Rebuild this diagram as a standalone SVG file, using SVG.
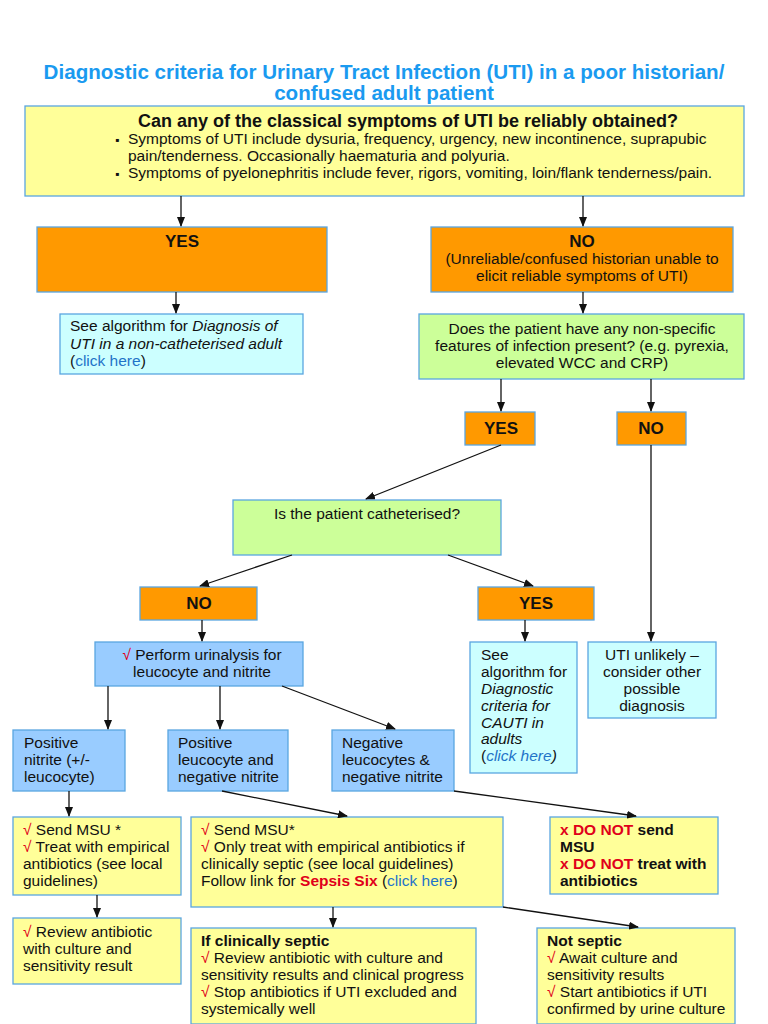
<svg xmlns="http://www.w3.org/2000/svg" width="768" height="1024" viewBox="0 0 768 1024">
<style>
text{font-family:"Liberation Sans",Arial,sans-serif;font-size:15.5px;fill:#111}
.t{font-size:20.6px;font-weight:bold;fill:#1a9af0}
.b{font-weight:bold}
.k{font-weight:bold;font-size:17px}
.c{text-anchor:middle}
.y{fill:#ffff99;stroke:#5aa6e0;stroke-width:1.3}
.o{fill:#ff9900;stroke:#5aa6e0;stroke-width:1.3}
.lb{fill:#ccffff;stroke:#5aa6e0;stroke-width:1.3}
.g{fill:#ccff99;stroke:#5aa6e0;stroke-width:1.3}
.bl{fill:#99ccff;stroke:#5aa6e0;stroke-width:1.3}
.r{fill:#e0001a}
.rb{fill:#e0001a;font-weight:bold}
.lk{fill:#1f73c8}
.ln{stroke:#111;stroke-width:1.3;fill:none;marker-end:url(#a)}
</style>
<defs><marker id="a" markerWidth="10" markerHeight="8" refX="9" refY="4" orient="auto" markerUnits="userSpaceOnUse"><path d="M0,0 L10,4 L0,8 z" fill="#111"/></marker></defs>
<rect width="768" height="1024" fill="#fff"/>
<g id="title"><text class="t c" x="384" y="79">Diagnostic criteria for Urinary Tract Infection (UTI) in a poor historian/</text><text class="t c" x="384" y="100">confused adult patient</text></g>
<g id="q1"><rect class="y" x="25" y="106" width="719" height="90"/><text class="b c" x="408" y="127" style="font-size:18px">Can any of the classical symptoms of UTI be reliably obtained?</text><text x="115" y="144" style="font-size:12px">▪</text><text x="128" y="144">Symptoms of UTI include dysuria, frequency, urgency, new incontinence, suprapubic</text><text x="128" y="161">pain/tenderness. Occasionally haematuria and polyuria.</text><text x="115" y="178" style="font-size:12px">▪</text><text x="128" y="178">Symptoms of pyelonephritis include fever, rigors, vomiting, loin/flank tenderness/pain.</text></g>
<g id="yes1"><rect class="o" x="37" y="227" width="290" height="65"/><text class="k c" x="182" y="247">YES</text></g>
<g id="no1"><rect class="o" x="431" y="227" width="302" height="65"/><text class="k c" x="582" y="247">NO</text><text class="c" x="582" y="264">(Unreliable/confused historian unable to</text><text class="c" x="582" y="281">elicit reliable symptoms of UTI)</text></g>
<g id="seealg1"><rect class="lb" x="60" y="314" width="243" height="60"/><text x="70" y="331">See algorithm for <tspan font-style="italic">Diagnosis of</tspan></text><text x="70" y="349" font-style="italic">UTI in a non-catheterised adult</text><text x="70" y="366">(<tspan class="lk">click here</tspan>)</text></g>
<g id="q2"><rect class="g" x="419" y="314" width="325" height="65"/><text class="c" x="582" y="334">Does the patient have any non-specific</text><text class="c" x="582" y="351">features of infection present? (e.g. pyrexia,</text><text class="c" x="582" y="368">elevated WCC and CRP)</text></g>
<g id="yes2"><rect class="o" x="465" y="412" width="70" height="33"/><text class="k c" x="501" y="434">YES</text></g>
<g id="no2"><rect class="o" x="617" y="412" width="69" height="33"/><text class="k c" x="651" y="434">NO</text></g>
<g id="q3"><rect class="g" x="233" y="500" width="268" height="55"/><text class="c" x="367" y="519">Is the patient catheterised?</text></g>
<g id="no3"><rect class="o" x="140" y="587" width="117" height="33"/><text class="k c" x="199" y="609">NO</text></g>
<g id="yes3"><rect class="o" x="478" y="587" width="116" height="33"/><text class="k c" x="536" y="609">YES</text></g>
<g id="urinalysis"><rect class="bl" x="95" y="642" width="208" height="44"/><text class="c" x="202" y="660"><tspan class="r">√</tspan> Perform urinalysis for</text><text class="c" x="202" y="677">leucocyte and nitrite</text></g>
<g id="cauti"><rect class="lb" x="470" y="642" width="107" height="131"/><text x="481" y="660">See</text><text x="481" y="677">algorithm for</text><text x="481" y="694" font-style="italic">Diagnostic</text><text x="481" y="711" font-style="italic">criteria for</text><text x="481" y="728" font-style="italic">CAUTI in</text><text x="481" y="744" font-style="italic">adults</text><text x="481" y="761">(<tspan class="lk" font-style="italic">click here</tspan><tspan font-style="italic">)</tspan></text></g>
<g id="unlikely"><rect class="lb" x="588" y="642" width="128" height="76"/><text class="c" x="652" y="660">UTI unlikely –</text><text class="c" x="652" y="677">consider other</text><text class="c" x="652" y="694">possible</text><text class="c" x="652" y="711">diagnosis</text></g>
<g id="posnit"><rect class="bl" x="13" y="730" width="112" height="61"/><text x="24" y="748">Positive</text><text x="24" y="765">nitrite (+/-</text><text x="24" y="782">leucocyte)</text></g>
<g id="posleu"><rect class="bl" x="168" y="730" width="120" height="61"/><text x="178" y="748">Positive</text><text x="178" y="765">leucocyte and</text><text x="178" y="782">negative nitrite</text></g>
<g id="neg"><rect class="bl" x="332" y="730" width="122" height="61"/><text x="342" y="748">Negative</text><text x="342" y="765">leucocytes &amp;</text><text x="342" y="782">negative nitrite</text></g>
<g id="sendmsu1"><rect class="y" x="13" y="817" width="168" height="78"/><text x="23" y="835"><tspan class="r">√</tspan> Send MSU *</text><text x="23" y="852"><tspan class="r">√</tspan> Treat with empirical</text><text x="23" y="869">antibiotics (see local</text><text x="23" y="886">guidelines)</text></g>
<g id="sendmsu2"><rect class="y" x="191" y="817" width="312" height="90"/><text x="201" y="835"><tspan class="r">√</tspan> Send MSU*</text><text x="201" y="852"><tspan class="r">√</tspan> Only treat with empirical antibiotics if</text><text x="201" y="869">clinically septic (see local guidelines)</text><text x="201" y="886">Follow link for <tspan class="rb">Sepsis Six</tspan> (<tspan class="lk">click here</tspan>)</text></g>
<g id="donot"><rect class="y" x="550" y="817" width="168" height="77"/><text class="b" x="560" y="835"><tspan class="rb">x DO NOT</tspan> send</text><text class="b" x="560" y="852">MSU</text><text class="b" x="560" y="869"><tspan class="rb">x DO NOT</tspan> treat with</text><text class="b" x="560" y="886">antibiotics</text></g>
<g id="review"><rect class="y" x="13" y="918" width="168" height="66"/><text x="23" y="937"><tspan class="r">√</tspan> Review antibiotic</text><text x="23" y="954">with culture and</text><text x="23" y="971">sensitivity result</text></g>
<g id="septic"><rect class="y" x="191" y="928" width="285" height="96"/><text class="b" x="201" y="946">If clinically septic</text><text x="201" y="963"><tspan class="r">√</tspan> Review antibiotic with culture and</text><text x="201" y="980">sensitivity results and clinical progress</text><text x="201" y="997"><tspan class="r">√</tspan> Stop antibiotics if UTI excluded and</text><text x="201" y="1014">systemically well</text></g>
<g id="notseptic"><rect class="y" x="537" y="928" width="198" height="96"/><text class="b" x="547" y="946">Not septic</text><text x="547" y="963"><tspan class="r">√</tspan> Await culture and</text><text x="547" y="980">sensitivity results</text><text x="547" y="997"><tspan class="r">√</tspan> Start antibiotics if UTI</text><text x="547" y="1014">confirmed by urine culture</text></g>
<g id="connectors">
<line class="ln" x1="181" y1="196" x2="181" y2="226"/>
<line class="ln" x1="583" y1="196" x2="583" y2="226"/>
<line class="ln" x1="176" y1="292" x2="176" y2="313"/>
<line class="ln" x1="583" y1="292" x2="583" y2="313"/>
<line class="ln" x1="501" y1="379" x2="501" y2="411"/>
<line class="ln" x1="651" y1="379" x2="651" y2="411"/>
<line class="ln" x1="501" y1="445" x2="366" y2="499"/>
<line class="ln" x1="292" y1="555" x2="200" y2="586"/>
<line class="ln" x1="448" y1="555" x2="533" y2="586"/>
<line class="ln" x1="202" y1="620" x2="202" y2="641"/>
<line class="ln" x1="525" y1="620" x2="525" y2="641"/>
<line class="ln" x1="651" y1="445" x2="651" y2="641"/>
<line class="ln" x1="108" y1="686" x2="108" y2="729"/>
<line class="ln" x1="220" y1="686" x2="220" y2="729"/>
<line class="ln" x1="282" y1="686" x2="395" y2="729"/>
<line class="ln" x1="69" y1="791" x2="69" y2="816"/>
<line class="ln" x1="222" y1="791" x2="347" y2="816"/>
<line class="ln" x1="454" y1="791" x2="636" y2="816"/>
<line class="ln" x1="97" y1="895" x2="97" y2="917"/>
<line class="ln" x1="333" y1="907" x2="333" y2="927"/>
<line class="ln" x1="503" y1="907" x2="638" y2="927"/>
</g>
</svg>
